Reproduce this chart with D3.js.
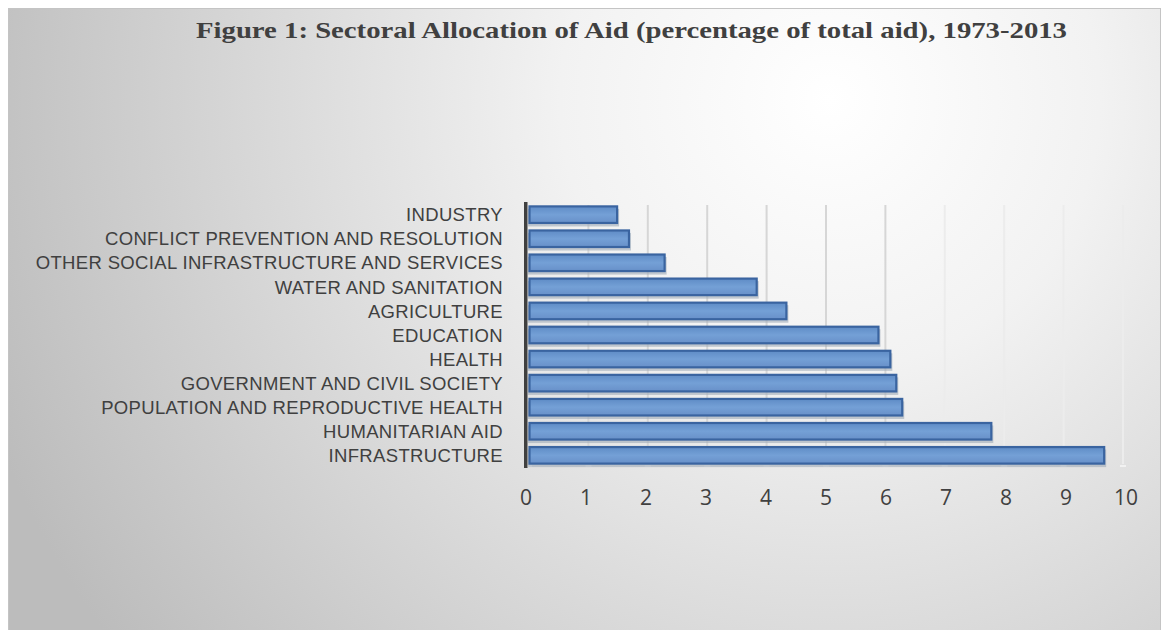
<!DOCTYPE html>
<html>
<head>
<meta charset="utf-8">
<script src="https://cdn.jsdelivr.net/npm/d3@7"></script>
<style>
  body { margin: 0; background: #fff; }
  svg { display: block; }
</style>
</head>
<body>
<svg id="chart" width="1166" height="630"></svg>
<script>
// sectors, bottom to top as drawn in the chart
const sectors = [
  "INFRASTRUCTURE",
  "HUMANITARIAN AID",
  "POPULATION AND REPRODUCTIVE HEALTH",
  "GOVERNMENT AND CIVIL SOCIETY",
  "HEALTH",
  "EDUCATION",
  "AGRICULTURE",
  "WATER AND SANITATION",
  "OTHER SOCIAL INFRASTRUCTURE AND SERVICES",
  "CONFLICT PREVENTION AND RESOLUTION",
  "INDUSTRY"
];
const shares = [9.7, 7.8, 6.3, 6.2, 6.1, 5.9, 4.35, 3.85, 2.3, 1.7, 1.5];
const ticks = [0, 1, 2, 3, 4, 5, 6, 7, 8, 9, 10];
const title = "Figure 1: Sectoral Allocation of Aid (percentage of total aid), 1973-2013";

const svg = d3.select("#chart");
const defs = svg.append("defs");

const bg = defs.append("radialGradient")
  .attr("id", "bg")
  .attr("gradientUnits", "userSpaceOnUse")
  .attr("cx", 830).attr("cy", 100).attr("r", 900);
bg.append("stop").attr("offset", "0").attr("stop-color", "#ffffff");
bg.append("stop").attr("offset", "0.3").attr("stop-color", "#f2f2f2");
bg.append("stop").attr("offset", "1").attr("stop-color", "#bcbcbc");

const barFill = defs.append("linearGradient")
  .attr("id", "barFill").attr("x1", 0).attr("x2", 0).attr("y1", 0).attr("y2", 1);
barFill.append("stop").attr("offset", "0").attr("stop-color", "#5f8cc6");
barFill.append("stop").attr("offset", "0.5").attr("stop-color", "#74a0d6");
barFill.append("stop").attr("offset", "1").attr("stop-color", "#6890c9");

// chart area frame
svg.append("rect")
  .attr("x", 8.5).attr("y", 8.5)
  .attr("width", 1152).attr("height", 622)
  .attr("fill", "url(#bg)")
  .attr("stroke", "#c4c4c4");

svg.append("text")
  .attr("x", 196).attr("y", 38)
  .attr("textLength", 871)
  .attr("lengthAdjust", "spacingAndGlyphs")
  .attr("font-family", "Liberation Serif, serif")
  .attr("font-weight", "bold")
  .attr("font-size", 24)
  .attr("fill", "#404040")
  .text(title);

const x = d3.scaleLinear().domain([0, 10]).range([528, 1122]);
const y = d3.scaleBand().domain(sectors).range([467, 203]).paddingInner(0.27).paddingOuter(0.12);

// 3D back-wall gridlines (slightly shifted right)
const depth = 3;
svg.append("g")
  .selectAll("line")
  .data(ticks.slice(1))
  .join("line")
  .attr("x1", d => x(d) - 2 + depth).attr("x2", d => x(d) - 2 + depth)
  .attr("y1", 205).attr("y2", 464)
  .attr("stroke", d => d >= 7 ? "#ececec" : "#d6d6d6")
  .attr("stroke-width", 2);

// floor ticks
svg.append("g")
  .selectAll("line")
  .data(ticks)
  .join("line")
  .attr("x1", d => x(d) - 2).attr("x2", d => x(d) + 4)
  .attr("y1", 466).attr("y2", 466)
  .attr("stroke", "#f2f2f2")
  .attr("stroke-width", 2);

// bar shadows (back face)
svg.append("g")
  .selectAll("rect")
  .data(sectors)
  .join("rect")
  .attr("x", x(0))
  .attr("y", d => y(d) + 3)
  .attr("width", (d, i) => x(shares[i]) - x(0) + 2)
  .attr("height", y.bandwidth())
  .attr("fill", "#9eaab8")
  .attr("opacity", 0.6);

// bars
svg.append("g")
  .selectAll("rect")
  .data(sectors)
  .join("rect")
  .attr("x", x(0) + 1.5)
  .attr("y", d => y(d) + 0.5)
  .attr("width", (d, i) => x(shares[i]) - x(0) - 1.5)
  .attr("height", y.bandwidth() - 1)
  .attr("fill", "url(#barFill)")
  .attr("stroke", "#3a64a0")
  .attr("stroke-width", 2.2);

// left axis wall
svg.append("rect")
  .attr("x", 524).attr("y", 202)
  .attr("width", 3.5).attr("height", 266)
  .attr("fill", "#404040");

// category labels
svg.append("g")
  .selectAll("text")
  .data(sectors)
  .join("text")
  .attr("x", 503)
  .attr("y", d => y(d) + y.bandwidth() / 2)
  .attr("dy", "0.36em")
  .attr("text-anchor", "end")
  .attr("font-family", "Liberation Sans, Arial, sans-serif")
  .attr("font-size", 18.5)
  .attr("letter-spacing", 0.35)
  .attr("fill", "#404040")
  .text(d => d);

// value axis labels
svg.append("g")
  .selectAll("text")
  .data(ticks)
  .join("text")
  .attr("x", d => d3.scaleLinear().domain([0, 10]).range([526, 1126])(d))
  .attr("y", 505)
  .attr("text-anchor", "middle")
  .attr("font-family", "Open Sans, sans-serif")
  .attr("font-size", 21)
  .attr("fill", "#404040")
  .text(d => d);
</script>
</body>
</html>
